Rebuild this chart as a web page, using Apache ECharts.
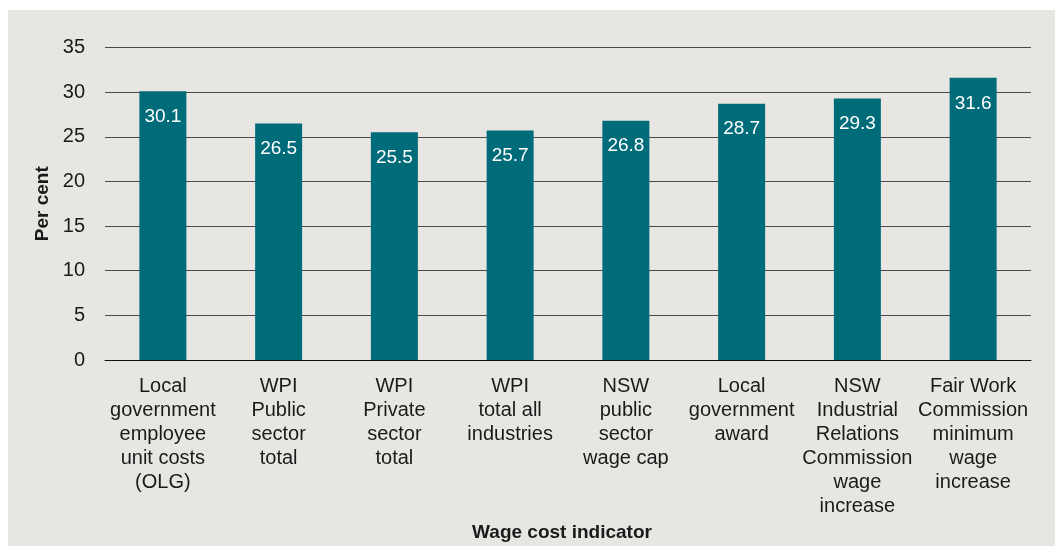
<!DOCTYPE html>
<html>
<head>
<meta charset="utf-8">
<script src="https://cdn.jsdelivr.net/npm/echarts@6/dist/echarts.min.js"></script>
<style>
  html, body { margin: 0; padding: 0; background: #ffffff; }
  #frame { position: absolute; left: 8px; top: 10px; width: 1047px; height: 536px; background: #e8e6e2; }
  #chart { position: absolute; left: 0; top: 0; width: 1055px; height: 546px; }
</style>
</head>
<body>
<div id="frame"></div>
<div id="chart"></div>
<script>
// Wage cost indicators, cumulative growth (per cent)
const categories = [
  'Local\ngovernment\nemployee\nunit costs\n(OLG)',
  'WPI\nPublic\nsector\ntotal',
  'WPI\nPrivate\nsector\ntotal',
  'WPI\ntotal all\nindustries',
  'NSW\npublic\nsector\nwage cap',
  'Local\ngovernment\naward',
  'NSW\nIndustrial\nRelations\nCommission\nwage\nincrease',
  'Fair Work\nCommission\nminimum\nwage\nincrease'
];
const values = [30.1, 26.5, 25.5, 25.7, 26.8, 28.7, 29.3, 31.6];
const yTicks = [0, 5, 10, 15, 20, 25, 30, 35];

const FONT = 'Liberation Sans';
const chart = echarts.init(document.getElementById('chart'), null, { renderer: 'canvas' });
chart.setOption({
  backgroundColor: 'transparent',
  animation: false,
  grid: { left: 105, right: 24, top: 47.5, bottom: 186, containLabel: false, outerBoundsMode: 'none' },
  xAxis: {
    type: 'category',
    data: categories,
    name: 'Wage cost indicator',
    nameLocation: 'middle',
    nameGap: 157,
    nameTextStyle: { fontFamily: FONT, fontSize: 19, fontWeight: 'bold', color: '#1a1a1a', padding: [0, 12, 0, 0] },
    axisLine: { lineStyle: { color: '#111', width: 1 } },
    axisTick: { show: false },
    axisLabel: {
      interval: 0, margin: 14,
      fontFamily: FONT, fontSize: 20, lineHeight: 24, color: '#1a1a1a', align: 'center'
    }
  },
  yAxis: {
    type: 'value',
    min: yTicks[0],
    max: yTicks[yTicks.length - 1],
    interval: yTicks[1] - yTicks[0],
    name: 'Per cent',
    nameLocation: 'middle',
    nameGap: 53,
    nameRotate: 90,
    nameTextStyle: { fontFamily: FONT, fontSize: 19, fontWeight: 'bold', color: '#1a1a1a' },
    axisLine: { show: false },
    axisTick: { show: false },
    axisLabel: { margin: 20, fontFamily: FONT, fontSize: 20, color: '#1a1a1a' },
    splitLine: { lineStyle: { color: '#4a4a4a', width: 1 } }
  },
  series: [{
    type: 'bar',
    data: values,
    barWidth: 47,
    itemStyle: { color: '#006b79' },
    label: {
      show: true,
      position: 'insideTop',
      distance: 16,
      fontFamily: FONT,
      fontSize: 19,
      color: '#ffffff',
      formatter: p => p.value.toFixed(1)
    }
  }]
});
</script>
</body>
</html>
